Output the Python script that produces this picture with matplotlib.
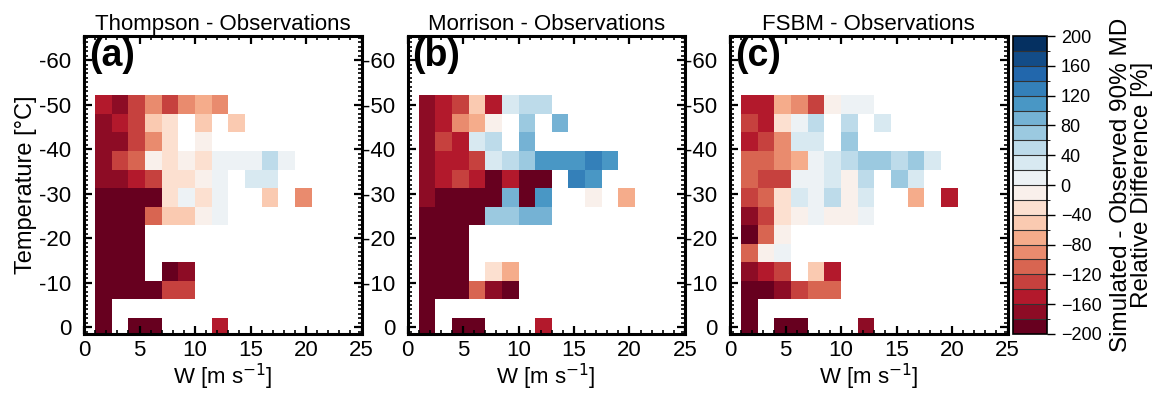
import numpy as np
import matplotlib
matplotlib.use("Agg")
import matplotlib.pyplot as plt
from matplotlib.colors import ListedColormap, BoundaryNorm
from matplotlib.ticker import MultipleLocator

plt.rcParams['font.family'] = ['Liberation Sans', 'DejaVu Sans']

n = np.nan

# Updraft-speed bin edges [m s-1] and temperature bin edges [degC]
w_edges = [1.0, 2.5, 4.0, 5.5, 7.0, 8.5, 10.0, 11.5, 13.0, 14.5, 16.0, 17.5, 19.0, 20.5]
t_edges = [-52.08, -47.92, -43.75, -39.58, -35.42, -31.25, -27.08, -22.92,
           -18.75, -14.58, -10.42, -6.25, -2.08, 2.08]

# Relative difference [%], rows ordered from coldest (-50 degC) to warmest (0 degC)
thompson = [
    [-150, -170, -130, -90, -130, -90, -70, -90, n, n, n, n, n],
    [-170, -150, -130, -50, -30, n, -50, n, -50, n, n, n, n],
    [-170, -170, -130, -90, -30, n, -10, n, n, n, n, n, n],
    [-170, -130, -110, -10, -30, -10, -30, 10, 10, 10, 50, 10, n],
    [-170, -170, -150, -130, -30, -30, -10, 10, n, 30, 30, n, n],
    [-190, -190, -190, -190, -30, 10, -30, 10, n, n, -50, n, -90],
    [-190, -190, -190, -110, -50, -50, -10, 10, n, n, n, n, n],
    [-190, -190, -190, n, n, n, n, n, n, n, n, n, n],
    [-190, -190, -190, n, n, n, n, n, n, n, n, n, n],
    [-190, -190, -190, n, -190, -170, n, n, n, n, n, n, n],
    [-190, -190, -190, -190, -130, -130, n, n, n, n, n, n, n],
    [-190, n, n, n, n, n, n, n, n, n, n, n, n],
    [-190, n, -190, -190, n, n, n, -150, n, n, n, n, n],
]

morrison = [
    [-170, -150, -130, -50, -150, 30, 50, 50, n, n, n, n, n],
    [-170, -150, -90, -70, -10, n, 70, n, 90, n, n, n, n],
    [-170, -130, -150, 30, 50, n, 90, n, n, n, n, n, n],
    [-170, -150, -150, -130, 30, 50, 70, 110, 110, 110, 130, 110, n],
    [-170, -150, -130, -150, -190, -150, -190, -190, n, 130, 110, n, n],
    [-170, -190, -190, -190, -190, 90, -190, 110, n, n, -10, n, -70],
    [-190, -190, -190, -190, 70, 70, 90, 90, n, n, n, n, n],
    [-190, -190, -190, n, n, n, n, n, n, n, n, n, n],
    [-190, -190, -190, n, n, n, n, n, n, n, n, n, n],
    [-190, -190, -190, n, -30, -70, n, n, n, n, n, n, n],
    [-190, -190, -190, -110, -170, -190, n, n, n, n, n, n, n],
    [-190, n, n, n, n, n, n, n, n, n, n, n, n],
    [-190, n, -190, -190, n, n, n, -150, n, n, n, n, n],
]

fsbm = [
    [-150, -150, -70, -90, -130, -10, 10, 10, n, n, n, n, n],
    [-130, -150, -30, 10, 50, n, 50, n, 30, n, n, n, n],
    [-150, -130, -90, 30, 30, n, 70, n, n, n, n, n, n],
    [-110, -110, -90, -70, 10, 30, 50, 70, 70, 50, 70, 30, n],
    [-110, -130, -130, 10, 10, 30, -10, 50, n, 70, 30, n, n],
    [-130, -110, -30, 30, 10, 50, -10, 30, n, n, -70, n, -150],
    [-170, -130, -30, -10, 10, -10, -10, 10, n, n, n, n, n],
    [-190, -110, -10, n, n, n, n, n, n, n, n, n, n],
    [-110, -10, 10, n, n, n, n, n, n, n, n, n, n],
    [-170, -150, -130, n, -50, -150, n, n, n, n, n, n, n],
    [-190, -190, -170, -130, -110, -110, n, n, n, n, n, n, n],
    [-190, n, n, n, n, n, n, n, n, n, n, n, n],
    [-190, n, -190, -190, n, n, n, -170, n, n, n, n, n],
]

titles = ["Thompson - Observations", "Morrison - Observations", "FSBM - Observations"]
panel_tags = ["(a)", "(b)", "(c)"]
levels = list(range(-200, 201, 20))
cbar_ticks = list(range(-200, 201, 40))

cmap = ListedColormap(plt.get_cmap('RdBu')(np.linspace(0, 1, len(levels) - 1)))
norm = BoundaryNorm(levels, cmap.N)

fig = plt.figure(figsize=(11.61, 3.94), dpi=100)
lefts = [0.0724, 0.3510, 0.6288]
bottom, height, width = 0.1523, 0.7563, 0.2390

mesh = None
for k, (data, title, tag) in enumerate(zip([thompson, morrison, fsbm], titles, panel_tags)):
    ax = fig.add_axes([lefts[k], bottom, width, height])
    mesh = ax.pcolormesh(w_edges, t_edges, np.array(data, dtype=float),
                         cmap=cmap, norm=norm, shading='flat')
    ax.set_xlim(0, 25)
    ax.set_ylim(1.5, -65.4)
    ax.xaxis.set_major_locator(MultipleLocator(5))
    ax.xaxis.set_minor_locator(MultipleLocator(1))
    ax.yaxis.set_major_locator(MultipleLocator(10))
    ax.yaxis.set_minor_locator(MultipleLocator(1))
    ax.tick_params(which='both', direction='in', top=True, right=True,
                   labelsize=16)
    ax.tick_params(axis='x', which='major', pad=4)
    ax.tick_params(axis='y', which='major', pad=9)
    ax.tick_params(which='major', length=6, width=1.6)
    ax.tick_params(which='minor', length=3, width=1.2)
    for sp in ax.spines.values():
        sp.set_linewidth(2.2)
    ax.set_yticks(range(-60, 1, 10))
    ax.set_yticklabels([str(v) for v in range(-60, 1, 10)])
    ax.set_title(title, fontsize=16, pad=4)
    ax.set_xlabel("W [m s$^{-1}$]", fontsize=16, labelpad=1)
    if k == 0:
        ax.set_ylabel("Temperature [°C]", fontsize=17, labelpad=2)
    ax.text(0.018, 0.995, tag, transform=ax.transAxes, fontsize=27,
            fontweight='bold', va='top', ha='left')

cax = fig.add_axes([0.8725, bottom, 0.0297, height])
cb = fig.colorbar(mesh, cax=cax, ticks=cbar_ticks, drawedges=True)
cb.outline.set_linewidth(1.2)
cb.dividers.set_color('#333333')
cb.dividers.set_linewidth(0.8)
cax.tick_params(labelsize=13, direction='out', length=6, width=1)
cb.set_label("Simulated - Observed 90% MD\nRelative Difference [%]",
             fontsize=17.5, labelpad=6, linespacing=0.95)

fig.savefig("out.png", dpi=100)
